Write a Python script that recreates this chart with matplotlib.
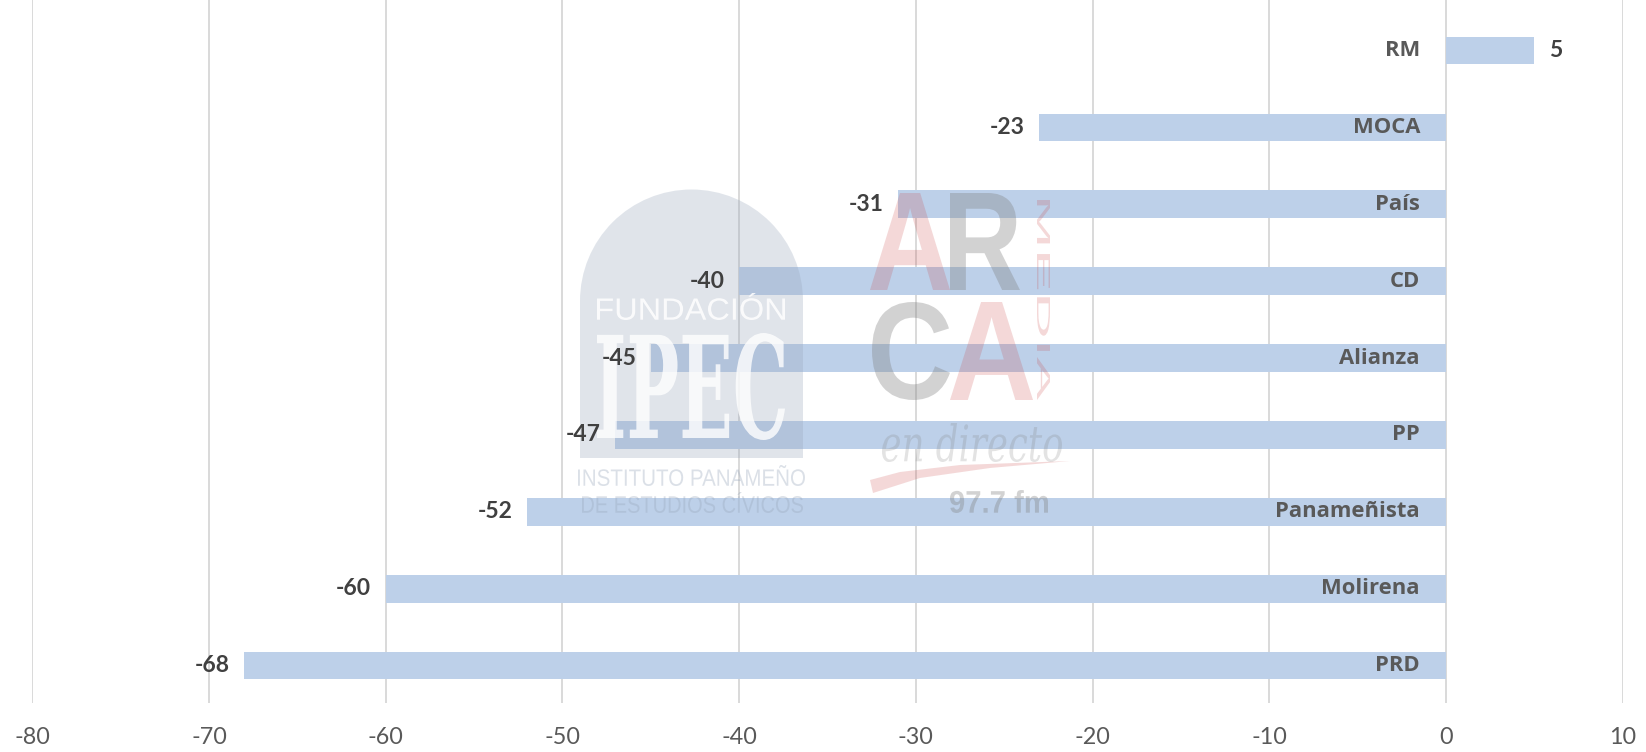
import matplotlib
matplotlib.use("Agg")
import matplotlib.pyplot as plt
from matplotlib.patches import PathPatch, Wedge, Rectangle, Polygon
from matplotlib.textpath import TextPath
from matplotlib.font_manager import FontProperties
from matplotlib.transforms import Affine2D

plt.rcParams["axes.unicode_minus"] = False

# data
parties = ["RM", "MOCA", "País", "CD", "Alianza", "PP", "Panameñista", "Molirena", "PRD"]
values = [5, -23, -31, -40, -45, -47, -52, -60, -68]
x_ticks = list(range(-80, 11, 10))

W, H = 1646, 752
fig = plt.figure(figsize=(W / 100, H / 100), dpi=100)
ax = fig.add_axes([0.0196, 0.065, 0.9662, 0.935])

ypos = list(range(len(parties)))[::-1]
ax.barh(ypos, values, height=0.36, color="#BDD0E9", zorder=2)
ax.set_xlim(-80, 10)
ax.set_ylim(-0.488, 8.657)
ax.set_xticks(x_ticks)
ax.set_yticks([])
ax.xaxis.grid(True, color="#D9D9D9", lw=1.4, zorder=0)
ax.set_axisbelow(True)
for s in ax.spines.values():
    s.set_visible(False)
ax.tick_params(axis="x", length=0, pad=17, labelsize=16.8, labelcolor="#595959")
for lab in ax.get_xticklabels():
    lab.set_family("Lato")

for y, name, v in zip(ypos, parties, values):
    ax.text(-1.47, y, name, ha="right", va="center", fontsize=15.8,
            fontweight="bold", color="#595959", family="Open Sans", zorder=4)
    off = 10.5 if v >= 0 else -10.5
    ax.annotate(str(v), (v, y), xytext=(off, 0), textcoords="offset points",
                ha="left" if v >= 0 else "right", va="center", fontsize=16.5,
                fontweight="bold", color="#404040", family="Lato", zorder=4)

# watermark (pixel coordinates of the image, drawn between bars and labels)
px = Affine2D().scale(1 / W, 1 / H) + fig.transFigure


def add_wm(patch):
    patch.set_transform(px)
    patch.set_clip_on(False)
    patch.set_zorder(3)
    ax.add_patch(patch)


def fit_text(s, x0, x1, ytop, ybot, color, alpha, prop, rot=0):
    tp = TextPath((0, 0), s, size=100, prop=prop)
    if rot:
        tp = tp.transformed(Affine2D().rotate_deg(rot))
    ext = tp.get_extents()
    sx = (x1 - x0) / ext.width
    sy = (ybot - ytop) / ext.height
    tr = Affine2D().translate(-ext.x0, -ext.y0).scale(sx, sy).translate(x0, H - ybot)
    add_wm(PathPatch(tr.transform_path(tp), fc=color, ec="none", alpha=alpha, lw=0))


ipec_c, ipec_a = "#9AA8BC", 0.3
add_wm(Wedge((691.5, H - 301), 111.5, 0, 180, fc=ipec_c, ec="none", alpha=ipec_a))
add_wm(Rectangle((580, H - 458), 223, 157, fc=ipec_c, ec="none", alpha=ipec_a))
sans = FontProperties(family="Liberation Sans")
serif_b = FontProperties(family="DejaVu Serif", weight="bold")
fit_text("FUNDACIÓN", 597, 785, 293, 320, "white", 0.85, sans)
fit_text("IPEC", 597, 785, 333, 440, "white", 0.8, serif_b)
fit_text("INSTITUTO PANAMEÑO", 578, 805, 465, 486, ipec_c, 0.35, sans)
fit_text("DE ESTUDIOS CÍVICOS", 582, 803, 492, 513, ipec_c, 0.35, sans)

pink, pink_a = "#C84040", 0.2
grey, grey_a = "#808080", 0.35
bold = FontProperties(family="Liberation Sans", weight="bold")
fit_text("A", 870, 950, 193, 290, pink, pink_a, bold)
fit_text("R", 950, 1020, 193, 290, grey, grey_a, bold)
fit_text("C", 872, 950, 302, 400, grey, grey_a, bold)
fit_text("A", 950, 1033, 302, 400, pink, pink_a, bold)
fit_text("MEDIA", 1037, 1050, 200, 400, pink, pink_a, sans, rot=-90)
fit_text("en directo", 882, 1062, 423, 462, grey, 0.22,
         FontProperties(family="DejaVu Serif", style="italic"))
add_wm(Polygon([(873, H - 493), (870, H - 480), (900, H - 472), (960, H - 465),
                (1070, H - 461), (990, H - 468), (920, H - 478)],
               closed=True, fc=pink, ec="none", alpha=0.2))
fit_text("97.7 fm", 950, 1048, 490, 513, grey, 0.35, bold)

fig.savefig("out.png", dpi=100)
